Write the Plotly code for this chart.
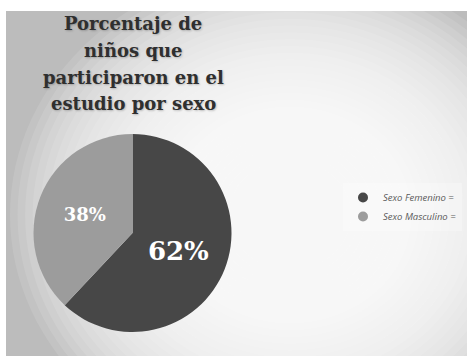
import plotly.graph_objects as go

labels = ["Sexo Femenino =", "Sexo Masculino ="]
values = [62, 38]
colors = ["#474747", "#9c9c9c"]
text_sizes = [26, 18]
title_lines = ["Porcentaje de", "niños que", "participaron en el", "estudio por sexo"]

W, H = 467, 356

fig = go.Figure()

fig.add_trace(go.Pie(
    labels=labels, values=values,
    marker=dict(colors=colors, line=dict(width=0)),
    sort=False, direction="clockwise", rotation=0,
    texttemplate="%{percent:.0%}",
    textposition="inside",
    insidetextorientation="horizontal",
    textfont=dict(family="DejaVu Serif", color="white", size=text_sizes, weight="bold"),
    domain=dict(x=[33 / W, 232 / W], y=[1 - 332 / H, 1 - 134 / H]),
    showlegend=False, hoverinfo="label+percent",
))

for lab, col in zip(labels, colors):
    fig.add_trace(go.Scatter(
        x=[None], y=[None], mode="markers", name=lab,
        marker=dict(color=col, size=10, symbol="circle"),
    ))

shapes = [dict(type="rect", xref="paper", yref="paper", x0=6 / W, x1=1, y0=0, y1=1 - 11 / H,
               fillcolor="#bcbcbc", line=dict(width=0), layer="below")]
cx, cy = 290, 215
n = 30
for i in range(n):
    r = 250 - i * (250 - 55) / (n - 1)
    shapes.append(dict(
        type="circle", xref="paper", yref="paper",
        x0=(cx - r * 1.12) / W, x1=(cx + r * 1.12) / W,
        y0=1 - (cy + r) / H, y1=1 - (cy - r) / H,
        fillcolor="white", opacity=0.11, line=dict(width=0), layer="below",
    ))
# white strips outside the chart frame
shapes.append(dict(type="rect", xref="paper", yref="paper", x0=0, x1=6 / W, y0=0, y1=1,
                   fillcolor="white", line=dict(width=0), layer="below"))
shapes.append(dict(type="rect", xref="paper", yref="paper", x0=0, x1=1, y0=1 - 11 / H, y1=1,
                   fillcolor="white", line=dict(width=0), layer="below"))

title_y = [24, 50, 77, 103]
annotations = [dict(
    text=line, xref="paper", yref="paper",
    x=133 / W, y=1 - yy / H, xanchor="center", yanchor="middle",
    showarrow=False, align="center",
    font=dict(family="DejaVu Serif", size=18, color="#2f2f2f", weight="bold",
              shadow="1px 1px 2px rgba(0,0,0,0.22)"),
) for line, yy in zip(title_lines, title_y)]

fig.update_layout(
    width=W, height=H,
    margin=dict(l=0, r=0, t=0, b=0),
    paper_bgcolor="white", plot_bgcolor="rgba(0,0,0,0)",
    xaxis=dict(visible=False), yaxis=dict(visible=False),
    shapes=shapes,
    annotations=annotations,
    legend=dict(
        x=343 / W, y=1 - 207 / H, xanchor="left", yanchor="middle",
        font=dict(family="Open Sans", size=9.5, color="#5a5a5a", style="italic"),
        bgcolor="rgba(255,255,255,0.25)", itemwidth=30, tracegroupgap=0,
    ),
    showlegend=True,
)

fig.write_html("out.html")
